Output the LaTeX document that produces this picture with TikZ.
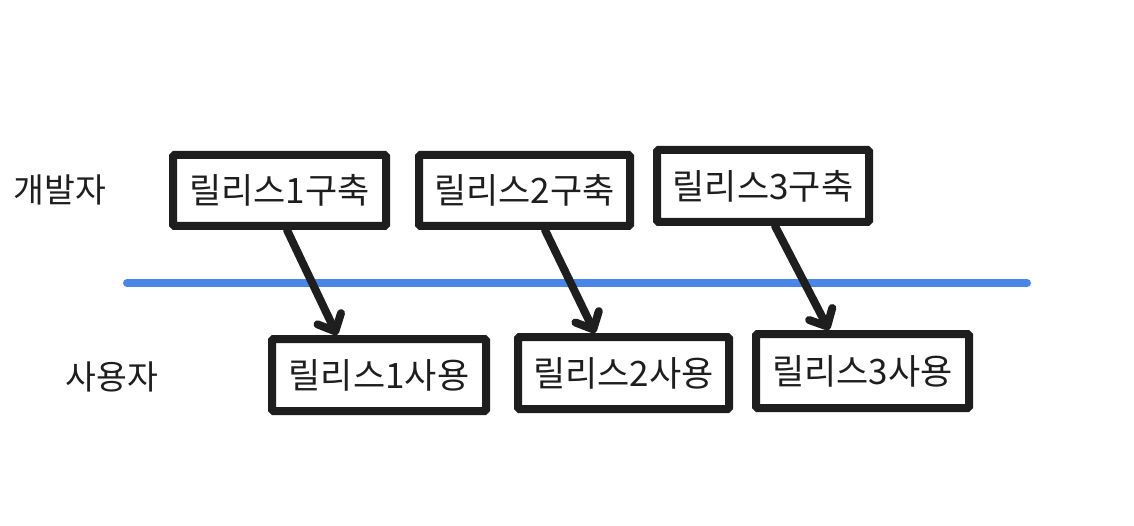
\documentclass[tikz,border=0pt]{standalone}
\usepackage{fontspec}
\setmainfont{Noto Sans CJK KR}
\usetikzlibrary{arrows.meta}
\definecolor{ink}{HTML}{1E1E1E}
\definecolor{lineblue}{HTML}{4A86E8}
\tikzset{
  relbox/.style={draw=ink, line width=8pt, fill=white, inner sep=0pt, text=ink,
    font=\fontsize{35}{40}\selectfont, rounded corners=1.5pt},
  lbl/.style={text=ink, font=\fontsize{33.5}{38}\selectfont, inner sep=0pt},
  flow/.style={draw=ink, line width=8pt, line cap=round,
    -{Straight Barb[length=14pt,width=26pt,round]}}
}
\begin{document}
\begin{tikzpicture}[x=1pt,y=-1pt]
\useasboundingbox[fill=white] (0,0) rectangle (1134,526);
\coordinate (bl) at (127,283);
\coordinate (br) at (1027,283);
\draw[lineblue, line width=8pt, line cap=round] (bl) -- (br);
\node[lbl] (dev) at (60,190) {개발자};
\node[lbl] (usr) at (112,377) {사용자};
\node[relbox, minimum width=213pt, minimum height=71pt] (t1) at (279.5,190.5) {릴리스1구축};
\node[relbox, minimum width=211pt, minimum height=71pt] (t2) at (524.5,190.5) {릴리스2구축};
\node[relbox, minimum width=212pt, minimum height=72pt] (t3) at (763,186) {릴리스3구축};
\node[relbox, minimum width=214pt, minimum height=72pt] (b1) at (379,375) {릴리스1사용};
\node[relbox, minimum width=211pt, minimum height=72pt] (b2) at (623.5,373) {릴리스2사용};
\node[relbox, minimum width=213pt, minimum height=74pt] (b3) at (862.5,371) {릴리스3사용};
\draw[flow] ([xshift=7.5pt]t1.south) -- ([xshift=-42pt]b1.north);
\draw[flow] ([xshift=20.5pt]t2.south) -- ([xshift=-28.5pt]b2.north);
\draw[flow] ([xshift=12pt]t3.south) -- ([xshift=-33.5pt]b3.north);
\end{tikzpicture}
\end{document}
